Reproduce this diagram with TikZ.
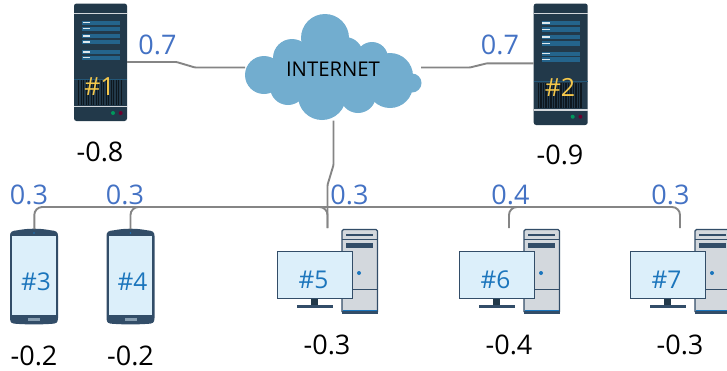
\documentclass[tikz,border=0pt]{standalone}
\usepackage{fontspec}
\setmainfont{Open Sans}
\definecolor{srvbody}{HTML}{22394A}
\definecolor{srvbar}{HTML}{24648C}
\definecolor{srvgold}{HTML}{F5C84C}
\definecolor{cloudblue}{HTML}{72ADCF}
\definecolor{wirecol}{HTML}{858585}
\definecolor{labblue}{HTML}{4472C4}
\definecolor{devnavy}{HTML}{324D68}
\definecolor{screenblue}{HTML}{DCEFFA}
\definecolor{idblue}{HTML}{1B75BC}
\definecolor{towergrey}{HTML}{D3D8DD}
\tikzset{
  x=1pt,y=-1pt,
  wire/.style={draw=wirecol,line width=1.9pt,rounded corners=8pt},
  sharpwire/.style={draw=wirecol,line width=1.9pt,rounded corners=1pt},
  wlabel/.style={text=labblue,font=\fontsize{27}{27}\selectfont,inner sep=0pt},
  vlabel/.style={text=black,font=\fontsize{27}{27}\selectfont,inner sep=0pt},
  idlabel/.style={text=idblue,font=\fontsize{24.5}{25}\selectfont,inner sep=0pt},
  srvlabel/.style={text=srvgold,font=\fontsize{25}{25}\selectfont,inner sep=0pt},
  box/.style={inner sep=0pt,outer sep=0pt,anchor=north west},
}
% name, x, y, width, height
\newcommand{\serverdev}[5]{%
  \node[box,fill=srvbody,rounded corners=2.5pt,minimum width=#4,minimum height=#5] (#1) at (#2,#3) {};
  \pgfmathsetmacro{\ysc}{#5/117.5}
  \begin{scope}[shift={(#2,#3)},yscale=\ysc]
    \fill[white!80!srvbody] (0,9) rectangle (#4,10.3);
    \foreach \yy in {17,23,30.5,36.5,46.5,52}{
      \fill[srvbar] (8,\yy) rectangle (46,\yy+4.2);
      \fill[white!85!srvbar] (8.5,\yy+1.3) rectangle (16,\yy+2.8);
    }
    \draw[srvbar!70!srvbody,line width=.6pt] (0,75.5) -- (#4,75.5);
    \foreach \xx in {4,6.5,...,48}{\fill[black!60!srvbody] (\xx,76.5) rectangle +(1.4,25);}
    \fill[white!80!srvbody] (0,102.5) rectangle (#4,103.8);
  \end{scope}
  \fill[green!40!cyan!60!black] (#2+39,#3+#5*0.932) circle (2);
  \fill[red!70!blue!60!black] (#2+46.7,#3+#5*0.932) circle (2);
}
% name, x, label
\newcommand{\phonedev}[3]{%
  \node[box,minimum width=48,minimum height=96] (#1) at (#2,228.5) {};
  \fill[devnavy] (#2,236) .. controls (#2,231.5) and (#2+2,230.8) .. (#2+8,230.2)
     .. controls (#2+18,228.2) and (#2+30,228.2) .. (#2+40,230.2)
     .. controls (#2+46,230.8) and (#2+48,231.5) .. (#2+48,236)
     -- (#2+48,318) .. controls (#2+48,323) and (#2+46,323.5) .. (#2+42,323.8)
     .. controls (#2+30,324.6) and (#2+18,324.6) .. (#2+6,323.8)
     .. controls (#2+2,323.5) and (#2,323) .. (#2,318) -- cycle;
  \fill[screenblue] (#2+2.3,236) rectangle (#2+45.7,315);
  \fill[screenblue!50!devnavy] (#2+18,318.3) rectangle (#2+30,321.3);
  \fill[idblue] (#2+24,233) circle (.8);
  \node[idlabel] at (#2+26,281.5) {#3};
}
% name, x, label
\newcommand{\pcdev}[3]{%
  \draw[devnavy,line width=1.2pt,fill=towergrey,rounded corners=1.5pt] (#2+65,229.5) rectangle (#2+100.5,313);
  \fill[devnavy] (#2+64.5,310.5) rectangle (#2+101,314);
  \fill[idblue] (#2+65.5,309.7) rectangle (#2+100,310.7);
  \draw[devnavy,line width=.7pt] (#2+65,239.5) -- (#2+100.5,239.5);
  \draw[devnavy,line width=.7pt] (#2+65,289.3) -- (#2+100.5,289.3);
  \fill[devnavy] (#2+69,234) rectangle (#2+96,236.2);
  \fill[devnavy] (#2+69,243) rectangle (#2+96,247.5);
  \fill[idblue] (#2+82,273) circle (2);
  \fill[srvbody] (#2+34,298) rectangle (#2+41,305.5);
  \fill[devnavy] (#2+20,305) rectangle (#2+56,308);
  \node[box,draw=devnavy,fill=screenblue,line width=1.2pt,minimum width=75,minimum height=46.5] (#1) at (#2+.5,251.7) {};
  \node[idlabel] at (#2+36.5,280) {#3};
}
\begin{document}
\begin{tikzpicture}
\useasboundingbox (0,0) rectangle (727,370);
% cloud
\node[inner sep=0pt,minimum width=176,minimum height=106] (cloud) at (334,67) {};
\fill[cloudblue] (325,38) circle (24);
\fill[cloudblue] (292,58) circle (19);
\fill[cloudblue] (264,75) circle (19);
\fill[cloudblue] (288,87) circle (18);
\fill[cloudblue] (322,96) circle (24);
\fill[cloudblue] (358,95) circle (18);
\fill[cloudblue] (390,85) circle (23);
\fill[cloudblue] (390,76) circle (23);
\fill[cloudblue] (372,58) circle (16);
\fill[cloudblue] (345,55) circle (18);
\fill[cloudblue] (412,83) circle (9.5);
\fill[cloudblue] (335,75) ellipse (62 and 25);
\node[text=black,inner sep=0pt,font=\fontsize{20.3}{20.3}\selectfont] at (333,69) {INTERNET};
% devices
\serverdev{s1}{74}{3.5}{53}{117.5}
\serverdev{s2}{533.7}{3.5}{54}{121.5}
\node[srvlabel] at (99.5,86.5) {\#1};
\node[srvlabel] at (560,87.5) {\#2};
\phonedev{p3}{10}{\#3}
\phonedev{p4}{106.5}{\#4}
\pcdev{c5}{277}{\#5}
\pcdev{c6}{459}{\#6}
\pcdev{c7}{630}{\#7}
% junctions
\coordinate (s1E) at (s1.east |- 0,62);
\coordinate (a1) at (176.5,62);
\coordinate (a2) at (195,67.5);
\coordinate (cloudW) at (245,67.5);
\coordinate (cloudE) at (421,67.5);
\coordinate (b1) at (470,67.5);
\coordinate (b2) at (487,63.3);
\coordinate (s2W) at (s2.west |- 0,63.3);
\coordinate (cloudS) at (333.5,120.5);
\coordinate (d1) at (333.5,165);
\coordinate (d2) at (327.5,185);
\coordinate (t5) at (327.5,228);
\coordinate (t3) at (34.3,229);
\coordinate (t4) at (130.5,229);
\coordinate (t6) at (509,228);
\coordinate (t7) at (680,228);
\coordinate (bus3) at (34.3,207);
\coordinate (bus4) at (130.5,207);
\coordinate (bus5) at (327.5,207);
\coordinate (bus6) at (509,207);
\coordinate (bus7) at (680,207);
% connectors
\draw[sharpwire] (s1E) -- (a1) -- (a2) -- (cloudW);
\draw[sharpwire] (cloudE) -- (b1) -- (b2) -- (s2W);
\draw[sharpwire] (cloudS) -- (d1) -- (d2) -- (t5);
\draw[wire] (t3) -- (bus3) -- (bus7) -- (t7);
\draw[wire] (t4) -- (bus4) -- +(12,0);
\draw[wire] (t5) -- (bus5) -- +(-12,0);
\draw[wire] (t6) -- (bus6) -- +(12,0);
% labels
\node[wlabel] at (157.5,45) {0.7};
\node[wlabel] at (500,45) {0.7};
\node[wlabel] at (29,195) {0.3};
\node[wlabel] at (125,195) {0.3};
\node[wlabel] at (349.5,195) {0.3};
\node[wlabel] at (510.5,195) {0.4};
\node[wlabel] at (670.5,195) {0.3};
\node[vlabel] at (100,152) {-0.8};
\node[vlabel] at (560,155) {-0.9};
\node[vlabel] at (34,355.5) {-0.2};
\node[vlabel] at (130.5,355.5) {-0.2};
\node[vlabel] at (327,345) {-0.3};
\node[vlabel] at (509,345) {-0.4};
\node[vlabel] at (680,345) {-0.3};
\end{tikzpicture}
\end{document}
